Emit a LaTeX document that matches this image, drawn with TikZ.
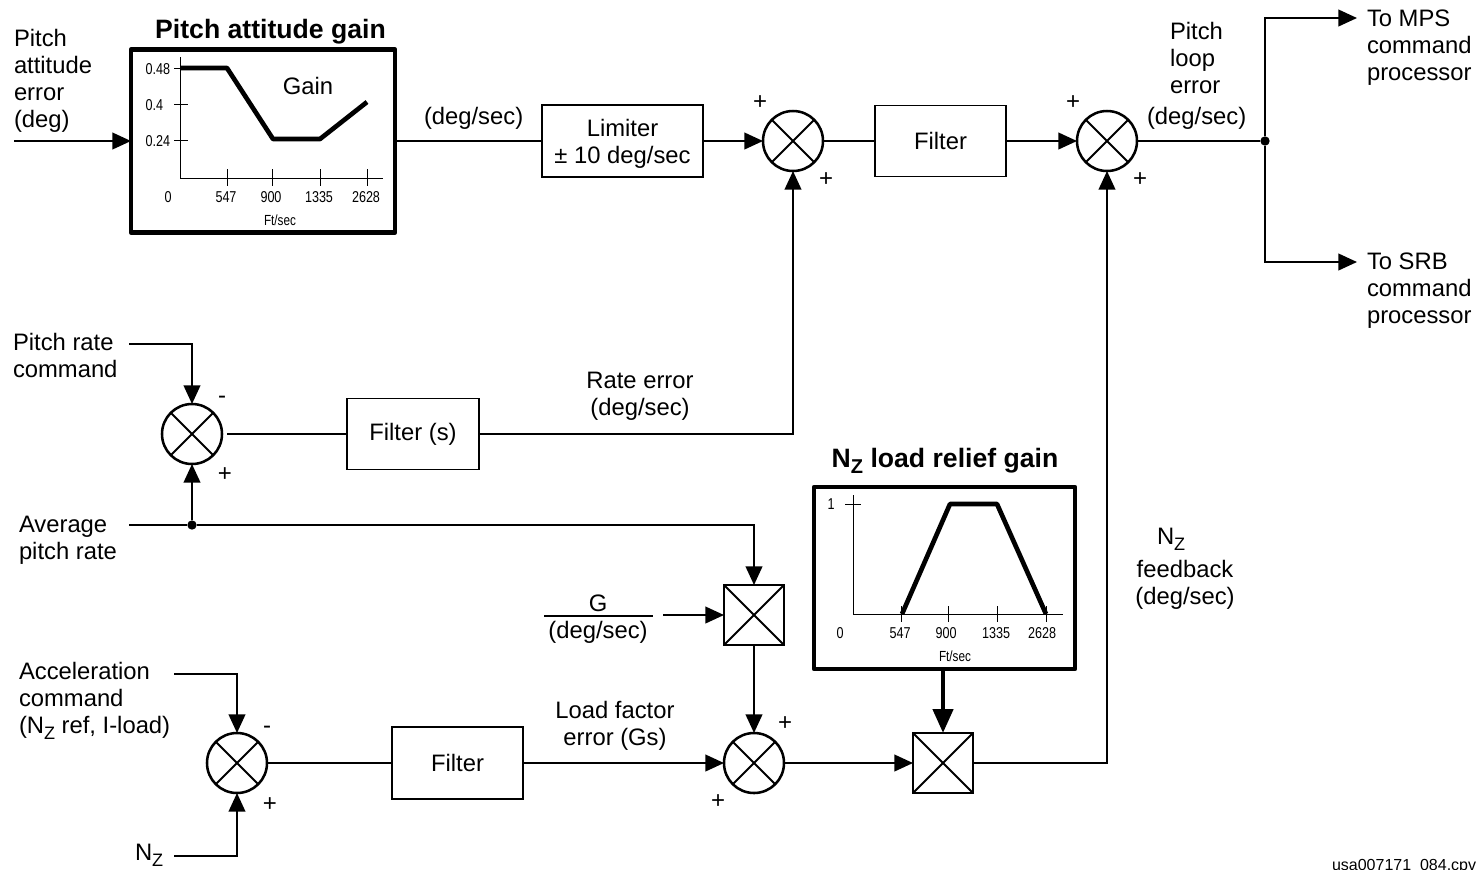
\documentclass[tikz,border=0pt]{standalone}
\usepackage{fontspec}
\setmainfont{Liberation Sans}
\newfontfamily\narrowfont[FakeStretch=0.8]{Liberation Sans}
\usetikzlibrary{arrows.meta,calc}
\newcommand{\subz}[1][13.5]{\raisebox{-5pt}{\fontsize{#1}{#1}\selectfont Z}}
\tikzset{
  x=0.75pt,y=-0.75pt,
  base/.style={inner sep=0pt,outer sep=0pt},
  lab/.style={base,font=\fontsize{17.85}{20.2}\selectfont,align=left,anchor=base west},
  labc/.style={base,font=\fontsize{17.85}{20.2}\selectfont,align=center,anchor=base},
  tiny/.style={base,font=\narrowfont\fontsize{11.8}{13}\selectfont},
  titlelab/.style={base,font=\bfseries\fontsize{19.95}{22}\selectfont,anchor=base},
  sign/.style={base,font=\fontsize{18}{18}\selectfont},
  conn/.style={line width=1.5pt,line join=miter},
  arr/.style={conn,-{Triangle[length=14pt,width=12.5pt]}},
  bigarr/.style={line width=3.4pt,-{Triangle[length=18pt,width=15pt]}},
  thinbox/.style={base,draw,line width=0.8pt,align=center,font=\fontsize{17.85}{20.2}\selectfont},
  gainbox/.style={base,draw,line width=3.6pt,line join=round},
  sumj/.style={base,circle,draw,line width=1.9pt,minimum size=45pt,
    path picture={\draw[line width=1.5pt] (path picture bounding box.north west)--(path picture bounding box.south east)
      (path picture bounding box.north east)--(path picture bounding box.south west);}},
  mult/.style={base,rectangle,draw,line width=1.9pt,minimum size=45pt,
    path picture={\draw[line width=1.5pt] (path picture bounding box.north west)--(path picture bounding box.south east)
      (path picture bounding box.north east)--(path picture bounding box.south west);}},
  junction/.style={base,circle,fill=black,minimum size=7pt},
  axis/.style={line width=0.75pt},
  tick/.style={line width=0.75pt},
  curve/.style={line width=3.5pt,line join=round},
}
\begin{document}
\begin{tikzpicture}
\useasboundingbox (0,0) rectangle (1480,869);

% --- blocks ---
\node[gainbox,minimum width=198pt,minimum height=137.25pt] (pgain) at (263,141) {};
\node[thinbox,minimum width=120.75pt,minimum height=54pt] (limiter) at (622.5,141) {\rule{0pt}{17.5pt}Limiter\\± 10 deg/sec};
\node[sumj] (sum1) at (793,141) {};
\node[thinbox,minimum width=98.25pt,minimum height=53.25pt] (filter1) at (940.5,141) {Filter};
\node[sumj] (sum2) at (1107,141) {};
\node[junction] (split) at (1265,141) {};
\coordinate (mps) at (1357,18);
\coordinate (srb) at (1357,262);
\coordinate (attin) at (14,141);

\node[sumj] (sumrate) at (192,434) {};
\coordinate (rateout) at (227,434);
\coordinate (ratecmd) at (129,344);
\node[thinbox,minimum width=99pt,minimum height=53.25pt] (filters) at (413,434) {Filter (s)};
\coordinate (avgin) at (129,525);
\node[junction] (avgdot) at (192,525) {};

\node[gainbox,minimum width=195.75pt,minimum height=136.5pt] (nzgain) at (944.5,578) {};
\node[mult] (mult1) at (754,615) {};
\coordinate (gin) at (663,615);
\node[sumj] (sum3) at (754,763) {};
\node[mult] (mult2) at (943,763) {};

\node[sumj] (sumacc) at (237,763) {};
\coordinate (acccmd) at (174,674);
\coordinate (nzin) at (174,856);
\node[thinbox,minimum width=98.25pt,minimum height=54pt] (filter3) at (457.5,763) {Filter};

% --- connectors ---
\draw[arr] (attin) -- (pgain.west);
\draw[conn] (pgain.east) -- (limiter.west);
\draw[arr] (limiter.east) -- (sum1.west);
\draw[conn] (sum1.east) -- (filter1.west);
\draw[arr] (filter1.east) -- (sum2.west);
\draw[conn] (sum2.east) -- (split);
\draw[arr] (split) |- (mps);
\draw[arr] (split) |- (srb);
\draw[arr] (ratecmd) -| (sumrate.north);
\draw[conn] (rateout) -- (filters.west);
\draw[arr] (filters.east) -| (sum1.south);
\draw[conn] (avgin) -- (avgdot);
\draw[arr] (avgdot) -- (sumrate.south);
\draw[arr] (avgdot) -| (mult1.north);
\draw[arr] (gin) -- (mult1.west);
\draw[arr] (mult1.south) -- (sum3.north);
\draw[arr] (acccmd) -| (sumacc.north);
\draw[arr] (nzin) -| (sumacc.south);
\draw[conn] (sumacc.east) -- (filter3.west);
\draw[arr] (filter3.east) -- (sum3.west);
\draw[arr] (sum3.east) -- (mult2.west);
\draw[bigarr] (nzgain.south -| mult2.north) -- (mult2.north);
\draw[arr] (mult2.east) -| (sum2.south);

% --- pitch attitude gain chart ---
\draw[axis] (180.5,57) -- (180.5,178) -- (383,178);
\foreach \yy in {68,104,140} \draw[tick] (174,\yy) -- (188,\yy);
\foreach \xx in {227,272.5,320,367} \draw[tick] (\xx,169) -- (\xx,186);
\draw[curve] (180,68) -- (227,68) -- (273,139) -- (320,139) -- (367,102);
\node[tiny,anchor=east] (t1) at (170,69) {0.48};
\node[tiny,anchor=east] (t2) at (163,105) {0.4};
\node[tiny,anchor=east] (t3) at (170,141) {0.24};
\node[tiny] (t4) at (168,197) {0};
\node[tiny] (t5) at (226,197) {547};
\node[tiny] (t6) at (271,197) {900};
\node[tiny] (t7) at (319,197) {1335};
\node[tiny] (t8) at (366,197) {2628};
\node[tiny,font=\narrowfont\fontsize{11}{13}\selectfont] (t9) at (280,220) {Ft/sec};
\node[labc] (gainlab) at (308,94) {Gain};

% --- Nz chart ---
\draw[axis] (853,495) -- (853,614) -- (1063,614);
\draw[tick] (845,504) -- (861,504);
\foreach \xx in {901,948,997,1046} \draw[tick] (\xx,606) -- (\xx,622);
\draw[curve] (902,614) -- (950,504) -- (997,504) -- (1046,614);
\node[tiny] (n1) at (831,504) {1};
\node[tiny] (n2) at (840,633) {0};
\node[tiny] (n3) at (900,633) {547};
\node[tiny] (n4) at (946,633) {900};
\node[tiny] (n5) at (996,633) {1335};
\node[tiny] (n6) at (1042,633) {2628};
\node[tiny,font=\narrowfont\fontsize{11}{13}\selectfont] (n7) at (955,656) {Ft/sec};

% --- titles ---
\node[titlelab] (ti1) at (270.5,38) {Pitch attitude gain};
\node[titlelab] (ti2) at (945,467) {N\subz[15] load relief gain};

% --- labels ---
\node[lab] (l1) at (14,127) {Pitch\\attitude\\error\\(deg)};
\node[lab] (l2) at (424,124) {(deg/sec)};
\node[lab] (l3) at (1170,93) {Pitch\\loop\\error};
\node[lab] (l4) at (1147,124) {(deg/sec)};
\node[lab] (l5) at (1367,80) {To MPS\\command\\processor};
\node[lab] (l6) at (1367,323) {To SRB\\command\\processor};
\node[lab] (l7) at (13,377) {Pitch rate\\command};
\node[labc] (l8) at (640,415) {Rate error\\(deg/sec)};
\node[lab] (l9) at (19,559) {Average\\pitch rate};
\node[lab] (l10a) at (1157,544) {N\subz};
\node[labc] (l10) at (1185,604) {feedback\\(deg/sec)};
\node[labc] (l11) at (598,638) {G\\(deg/sec)};
\draw[line width=0.9pt] (544,616) -- (653,616);
\node[lab] (l12) at (19,733) {Acceleration\\command\\(N\subz{} ref, I-load)};
\node[labc] (l13) at (615,745) {Load factor\\error (Gs)};
\node[lab] (l14) at (135,860) {N\subz};
\node[base,anchor=base west,font=\fontsize{12}{15}\selectfont] (l15) at (1332,870) {usa007171\_084.cpv};

% --- signs ---
\node[sign] (s1) at (760,103) {+};
\node[sign] (s2) at (826,180) {+};
\node[sign] (s3) at (1073,103) {+};
\node[sign] (s4) at (1140,180) {+};
\node[sign] (s5) at (222,400) {-};
\node[sign] (s6) at (225,475) {+};
\node[sign] (s7) at (267,730) {-};
\node[sign] (s8) at (270,805) {+};
\node[sign] (s9) at (785,724) {+};
\node[sign] (s10) at (718,802) {+};
\end{tikzpicture}
\end{document}
